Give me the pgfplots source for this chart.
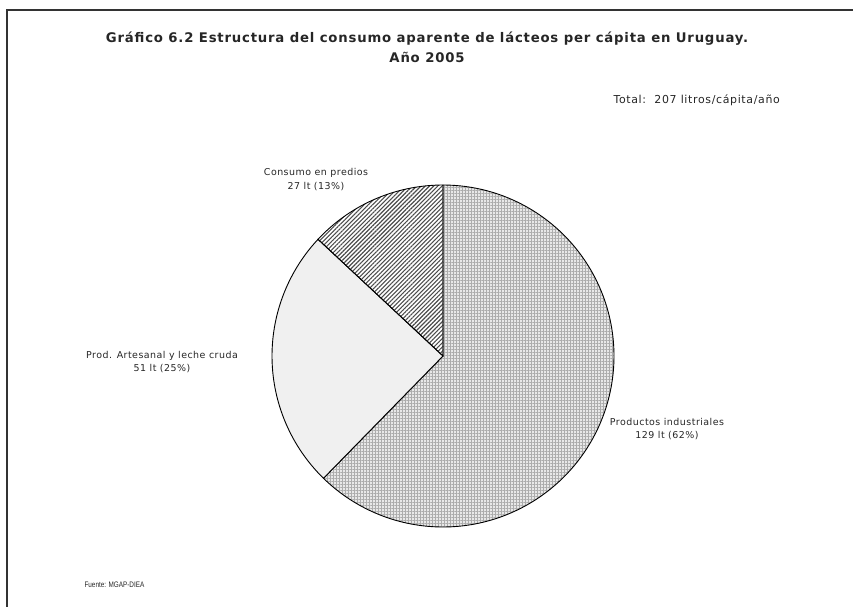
\documentclass[border=0pt]{standalone}
\usepackage{pgfplots}
\usepackage{pgfplotstable}
\pgfplotsset{compat=1.18}
\usetikzlibrary{patterns,patterns.meta}
\usepackage{fontspec}
\setmainfont{DejaVu Sans}
\newfontfamily\arialf[FakeStretch=0.8]{Liberation Sans}

\pgfplotstableread{
label value
Industriales 129
Artesanal 51
Consumo 27
}\pietable
\pgfplotstablegetelem{0}{value}\of\pietable \let\va\pgfplotsretval
\pgfplotstablegetelem{1}{value}\of\pietable \let\vb\pgfplotsretval
\pgfplotstablegetelem{2}{value}\of\pietable \let\vc\pgfplotsretval
\pgfmathsetmacro\total{\va+\vb+\vc}
\pgfmathsetmacro\aA{\va/\total*360}
\pgfmathsetmacro\aB{(\va+\vb)/\total*360}

\begin{document}
\begin{tikzpicture}
\begin{axis}[
  scale only axis, width=853bp, height=607bp,
  xmin=0, xmax=853, ymin=0, ymax=607, y dir=reverse,
  hide axis, clip=false,
]
% frame
\draw[line width=2bp, black!80] (axis cs:7,607) -- (axis cs:7,10) -- (axis cs:853,10);
% Productos industriales
\addplot[draw=none, fill=gray!18, domain=0:\aA, samples=120, variable=\t]
  ({443+171*sin(t)}, {356-171*cos(t)}) -- (axis cs:443,356) -- cycle;
\addplot[draw=black, line width=0.9bp, pattern={Hatch[angle=0,distance=3bp,line width=0.75bp]}, pattern color=gray!65, domain=0:\aA, samples=120, variable=\t]
  ({443+171*sin(t)}, {356-171*cos(t)}) -- (axis cs:443,356) -- cycle;
% Prod. artesanal
\addplot[draw=black, line width=0.9bp, fill=gray!12, domain=\aA:\aB, samples=60, variable=\t]
  ({443+171*sin(t)}, {356-171*cos(t)}) -- (axis cs:443,356) -- cycle;
% Consumo en predios
\addplot[draw=black, line width=0.9bp, pattern={Lines[angle=45,distance=3bp,line width=1.1bp]}, pattern color=black!70, domain=\aB:360, samples=40, variable=\t]
  ({443+171*sin(t)}, {356-171*cos(t)}) -- (axis cs:443,356) -- cycle;

% texts
\node[font=\bfseries\fontsize{13.3}{20}\selectfont\addfontfeature{LetterSpace=6}, align=center, text=black!85] at (axis cs:427,47)
  {Gráfico 6.2 Estructura del consumo aparente de lácteos per cápita en Uruguay.\\Año 2005};
\node[font=\fontsize{11}{13}\selectfont\addfontfeature{LetterSpace=6}, anchor=west, text=black!85] at (axis cs:610,100) {Total:\ \ 207 litros/cápita/año};
\node[font=\fontsize{9.5}{14}\selectfont\addfontfeature{LetterSpace=5}, align=center, text=black!85] at (axis cs:316,180) {Consumo en predios\\27 lt (13\%)};
\node[font=\fontsize{9.5}{14}\selectfont\addfontfeature{LetterSpace=5}, align=center, text=black!85] at (axis cs:162,362) {Prod. Artesanal y leche cruda\\51 lt (25\%)};
\node[font=\fontsize{9.5}{14}\selectfont\addfontfeature{LetterSpace=5}, align=center, text=black!85] at (axis cs:667,429) {Productos industriales\\129 lt (62\%)};
\node[font=\arialf\fontsize{8}{9}\selectfont, anchor=west, text=black!85] at (axis cs:81,585) {Fuente: MGAP-DIEA};
\end{axis}
\pgfresetboundingbox
\path[use as bounding box] (current axis.south west) rectangle (current axis.north east);
\end{tikzpicture}
\end{document}
